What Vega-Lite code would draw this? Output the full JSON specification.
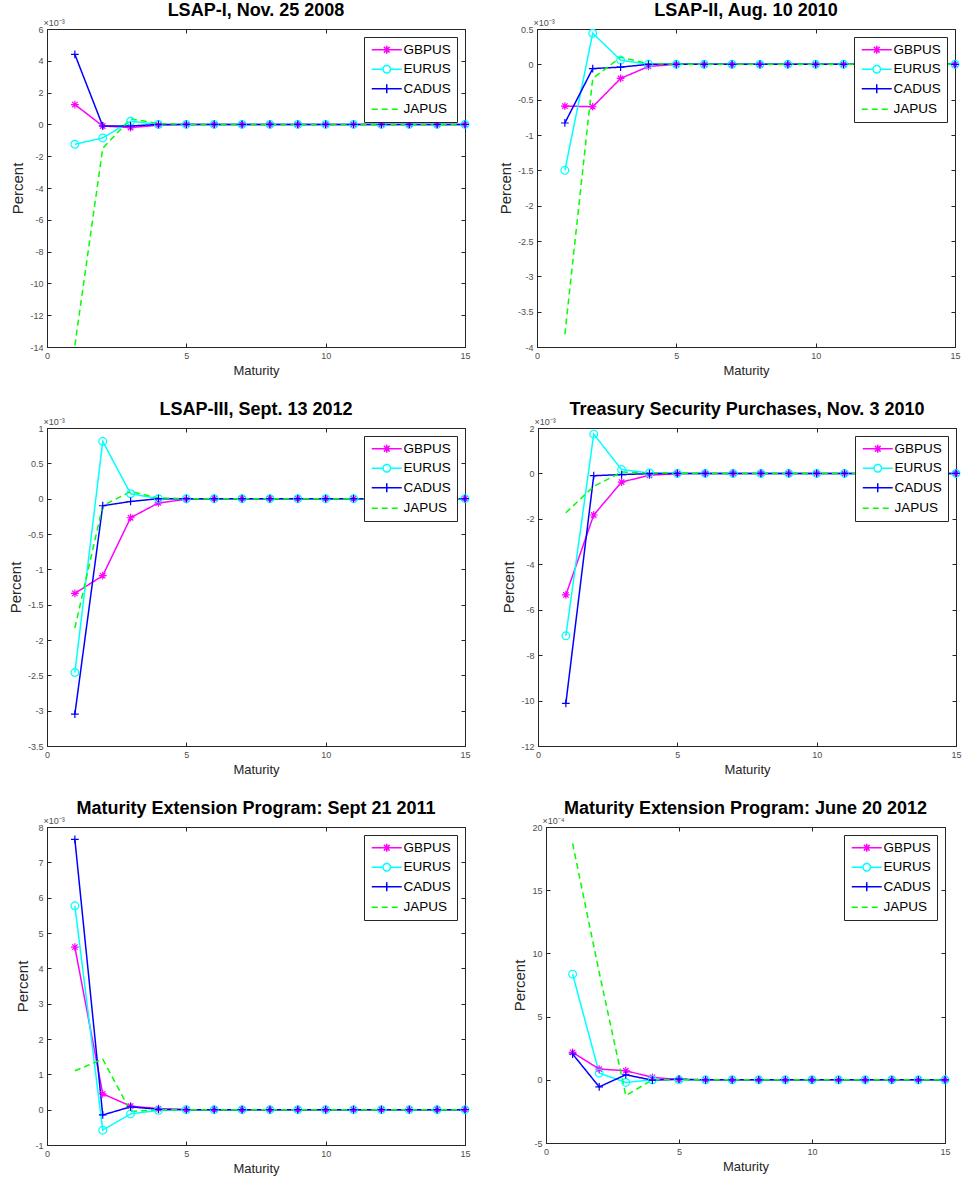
{
"$schema": "https://vega.github.io/schema/vega-lite/v6.json",
"background": "white",
"padding": {"left": 7, "top": 1, "right": 5, "bottom": 5},
"config": {
  "font": "Liberation Sans",
  "view": {"stroke": "#262626", "strokeWidth": 1},
  "axis": {"domainColor": "#262626", "tickColor": "#262626", "tickSize": -4, "labelPadding": 8, "labelFontSize": 9, "labelColor": "#4d4d4d", "labelFont": "Liberation Sans", "titleFont": "Liberation Sans", "titleFontSize": 13, "titleFontWeight": "normal", "titleColor": "#262626", "grid": false, "labelFlush": false, "labelOverlap": false, "labelExpr": "toString(datum.value)"},
  "axisLeft": {"titleFontSize": 15},
  "axisBottom": {"titleFontSize": 13},
  "title": {"fontSize": 18, "fontWeight": "bold", "font": "Liberation Sans", "color": "#000000"},
  "legend": {"orient": "top-right", "offset": 8, "fillColor": "#ffffff", "strokeColor": "#262626", "padding": 6, "symbolSize": 100, "symbolOffset": 10, "labelOffset": 10, "rowPadding": 4.5, "labelFontSize": 13.5, "labelColor": "#000000", "labelFont": "Liberation Sans"}
},
"datasets": {"d": [
{"p":1,"m":1,"GBPUS":1.25,"EURUS":-1.25,"CADUS":4.4,"JAPUS":-13.9},
{"p":1,"m":2,"GBPUS":-0.1,"EURUS":-0.85,"CADUS":-0.1,"JAPUS":-1.5},
{"p":1,"m":3,"GBPUS":-0.2,"EURUS":0.2,"CADUS":-0.1,"JAPUS":0.35},
{"p":1,"m":4,"GBPUS":-0.05,"EURUS":0,"CADUS":0,"JAPUS":0.05},
{"p":1,"m":5,"GBPUS":0,"EURUS":0,"CADUS":0,"JAPUS":0},
{"p":1,"m":6,"GBPUS":0,"EURUS":0,"CADUS":0,"JAPUS":0},
{"p":1,"m":7,"GBPUS":0,"EURUS":0,"CADUS":0,"JAPUS":0},
{"p":1,"m":8,"GBPUS":0,"EURUS":0,"CADUS":0,"JAPUS":0},
{"p":1,"m":9,"GBPUS":0,"EURUS":0,"CADUS":0,"JAPUS":0},
{"p":1,"m":10,"GBPUS":0,"EURUS":0,"CADUS":0,"JAPUS":0},
{"p":1,"m":11,"GBPUS":0,"EURUS":0,"CADUS":0,"JAPUS":0},
{"p":1,"m":12,"GBPUS":0,"EURUS":0,"CADUS":0,"JAPUS":0},
{"p":1,"m":13,"GBPUS":0,"EURUS":0,"CADUS":0,"JAPUS":0},
{"p":1,"m":14,"GBPUS":0,"EURUS":0,"CADUS":0,"JAPUS":0},
{"p":1,"m":15,"GBPUS":0,"EURUS":0,"CADUS":0,"JAPUS":0},
{"p":2,"m":1,"GBPUS":-0.59,"EURUS":-1.5,"CADUS":-0.83,"JAPUS":-3.82},
{"p":2,"m":2,"GBPUS":-0.6,"EURUS":0.44,"CADUS":-0.06,"JAPUS":-0.2},
{"p":2,"m":3,"GBPUS":-0.2,"EURUS":0.06,"CADUS":-0.04,"JAPUS":0.1},
{"p":2,"m":4,"GBPUS":-0.03,"EURUS":0,"CADUS":0,"JAPUS":0.01},
{"p":2,"m":5,"GBPUS":0,"EURUS":0,"CADUS":0,"JAPUS":0},
{"p":2,"m":6,"GBPUS":0,"EURUS":0,"CADUS":0,"JAPUS":0},
{"p":2,"m":7,"GBPUS":0,"EURUS":0,"CADUS":0,"JAPUS":0},
{"p":2,"m":8,"GBPUS":0,"EURUS":0,"CADUS":0,"JAPUS":0},
{"p":2,"m":9,"GBPUS":0,"EURUS":0,"CADUS":0,"JAPUS":0},
{"p":2,"m":10,"GBPUS":0,"EURUS":0,"CADUS":0,"JAPUS":0},
{"p":2,"m":11,"GBPUS":0,"EURUS":0,"CADUS":0,"JAPUS":0},
{"p":2,"m":12,"GBPUS":0,"EURUS":0,"CADUS":0,"JAPUS":0},
{"p":2,"m":13,"GBPUS":0,"EURUS":0,"CADUS":0,"JAPUS":0},
{"p":2,"m":14,"GBPUS":0,"EURUS":0,"CADUS":0,"JAPUS":0},
{"p":2,"m":15,"GBPUS":0,"EURUS":0,"CADUS":0,"JAPUS":0},
{"p":3,"m":1,"GBPUS":-1.34,"EURUS":-2.46,"CADUS":-3.05,"JAPUS":-1.83},
{"p":3,"m":2,"GBPUS":-1.09,"EURUS":0.81,"CADUS":-0.1,"JAPUS":-0.1},
{"p":3,"m":3,"GBPUS":-0.27,"EURUS":0.07,"CADUS":-0.04,"JAPUS":0.1},
{"p":3,"m":4,"GBPUS":-0.06,"EURUS":0,"CADUS":0,"JAPUS":0.01},
{"p":3,"m":5,"GBPUS":-0.01,"EURUS":0,"CADUS":0,"JAPUS":0},
{"p":3,"m":6,"GBPUS":0,"EURUS":0,"CADUS":0,"JAPUS":0},
{"p":3,"m":7,"GBPUS":0,"EURUS":0,"CADUS":0,"JAPUS":0},
{"p":3,"m":8,"GBPUS":0,"EURUS":0,"CADUS":0,"JAPUS":0},
{"p":3,"m":9,"GBPUS":0,"EURUS":0,"CADUS":0,"JAPUS":0},
{"p":3,"m":10,"GBPUS":0,"EURUS":0,"CADUS":0,"JAPUS":0},
{"p":3,"m":11,"GBPUS":0,"EURUS":0,"CADUS":0,"JAPUS":0},
{"p":3,"m":12,"GBPUS":0,"EURUS":0,"CADUS":0,"JAPUS":0},
{"p":3,"m":13,"GBPUS":0,"EURUS":0,"CADUS":0,"JAPUS":0},
{"p":3,"m":14,"GBPUS":0,"EURUS":0,"CADUS":0,"JAPUS":0},
{"p":3,"m":15,"GBPUS":0,"EURUS":0,"CADUS":0,"JAPUS":0},
{"p":4,"m":1,"GBPUS":-5.35,"EURUS":-7.15,"CADUS":-10.12,"JAPUS":-1.73},
{"p":4,"m":2,"GBPUS":-1.83,"EURUS":1.73,"CADUS":-0.1,"JAPUS":-0.57},
{"p":4,"m":3,"GBPUS":-0.38,"EURUS":0.17,"CADUS":-0.05,"JAPUS":0.06},
{"p":4,"m":4,"GBPUS":-0.08,"EURUS":0.02,"CADUS":-0.01,"JAPUS":0.02},
{"p":4,"m":5,"GBPUS":-0.01,"EURUS":0,"CADUS":0,"JAPUS":0.01},
{"p":4,"m":6,"GBPUS":0,"EURUS":0,"CADUS":0,"JAPUS":0},
{"p":4,"m":7,"GBPUS":0,"EURUS":0,"CADUS":0,"JAPUS":0},
{"p":4,"m":8,"GBPUS":0,"EURUS":0,"CADUS":0,"JAPUS":0},
{"p":4,"m":9,"GBPUS":0,"EURUS":0,"CADUS":0,"JAPUS":0},
{"p":4,"m":10,"GBPUS":0,"EURUS":0,"CADUS":0,"JAPUS":0},
{"p":4,"m":11,"GBPUS":0,"EURUS":0,"CADUS":0,"JAPUS":0},
{"p":4,"m":12,"GBPUS":0,"EURUS":0,"CADUS":0,"JAPUS":0},
{"p":4,"m":13,"GBPUS":0,"EURUS":0,"CADUS":0,"JAPUS":0},
{"p":4,"m":14,"GBPUS":0,"EURUS":0,"CADUS":0,"JAPUS":0},
{"p":4,"m":15,"GBPUS":0,"EURUS":0,"CADUS":0,"JAPUS":0},
{"p":5,"m":1,"GBPUS":4.6,"EURUS":5.77,"CADUS":7.65,"JAPUS":1.1},
{"p":5,"m":2,"GBPUS":0.45,"EURUS":-0.58,"CADUS":-0.15,"JAPUS":1.43},
{"p":5,"m":3,"GBPUS":0.1,"EURUS":-0.12,"CADUS":0.08,"JAPUS":-0.05},
{"p":5,"m":4,"GBPUS":0.03,"EURUS":-0.02,"CADUS":0.01,"JAPUS":0},
{"p":5,"m":5,"GBPUS":0,"EURUS":0,"CADUS":0,"JAPUS":0},
{"p":5,"m":6,"GBPUS":0,"EURUS":0,"CADUS":0,"JAPUS":0},
{"p":5,"m":7,"GBPUS":0,"EURUS":0,"CADUS":0,"JAPUS":0},
{"p":5,"m":8,"GBPUS":0,"EURUS":0,"CADUS":0,"JAPUS":0},
{"p":5,"m":9,"GBPUS":0,"EURUS":0,"CADUS":0,"JAPUS":0},
{"p":5,"m":10,"GBPUS":0,"EURUS":0,"CADUS":0,"JAPUS":0},
{"p":5,"m":11,"GBPUS":0,"EURUS":0,"CADUS":0,"JAPUS":0},
{"p":5,"m":12,"GBPUS":0,"EURUS":0,"CADUS":0,"JAPUS":0},
{"p":5,"m":13,"GBPUS":0,"EURUS":0,"CADUS":0,"JAPUS":0},
{"p":5,"m":14,"GBPUS":0,"EURUS":0,"CADUS":0,"JAPUS":0},
{"p":5,"m":15,"GBPUS":0,"EURUS":0,"CADUS":0,"JAPUS":0},
{"p":6,"m":1,"GBPUS":2.17,"EURUS":8.36,"CADUS":2.04,"JAPUS":18.7},
{"p":6,"m":2,"GBPUS":0.85,"EURUS":0.53,"CADUS":-0.56,"JAPUS":8.5},
{"p":6,"m":3,"GBPUS":0.72,"EURUS":-0.21,"CADUS":0.4,"JAPUS":-1.25},
{"p":6,"m":4,"GBPUS":0.19,"EURUS":0,"CADUS":-0.03,"JAPUS":0},
{"p":6,"m":5,"GBPUS":0.02,"EURUS":0,"CADUS":0.05,"JAPUS":0},
{"p":6,"m":6,"GBPUS":0,"EURUS":0,"CADUS":0,"JAPUS":0},
{"p":6,"m":7,"GBPUS":0,"EURUS":0,"CADUS":0,"JAPUS":0},
{"p":6,"m":8,"GBPUS":0,"EURUS":0,"CADUS":0,"JAPUS":0},
{"p":6,"m":9,"GBPUS":0,"EURUS":0,"CADUS":0,"JAPUS":0},
{"p":6,"m":10,"GBPUS":0,"EURUS":0,"CADUS":0,"JAPUS":0},
{"p":6,"m":11,"GBPUS":0,"EURUS":0,"CADUS":0,"JAPUS":0},
{"p":6,"m":12,"GBPUS":0,"EURUS":0,"CADUS":0,"JAPUS":0},
{"p":6,"m":13,"GBPUS":0,"EURUS":0,"CADUS":0,"JAPUS":0},
{"p":6,"m":14,"GBPUS":0,"EURUS":0,"CADUS":0,"JAPUS":0},
{"p":6,"m":15,"GBPUS":0,"EURUS":0,"CADUS":0,"JAPUS":0}
]},
"spacing": 22,
"resolve": {"scale": {"color": "independent", "shape": "independent", "strokeDash": "independent"}, "legend": {"color": "independent", "shape": "independent", "strokeDash": "independent"}},
"vconcat": [
{"spacing": 25,
 "resolve": {"scale": {"color": "independent", "shape": "independent", "strokeDash": "independent"}, "legend": {"color": "independent", "shape": "independent", "strokeDash": "independent"}},
 "hconcat": [
 {"title": {"text": "LSAP-I, Nov. 25 2008", "frame": "group", "offset": -2},
  "width": 418, "height": 318,
  "data": {"name": "d"},
  "transform": [{"filter": "datum.p == 1"}, {"fold": ["GBPUS", "EURUS", "CADUS", "JAPUS"], "as": ["s", "v"]}],
  "resolve": {"axis": {"x": "independent", "y": "independent"}},
  "layer": [
   {"mark": {"type": "line", "strokeWidth": 1.5, "clip": false},
    "encoding": {
     "x": {"field": "m", "type": "quantitative", "scale": {"domain": [0, 15], "nice": false}, "axis": {"orient": "bottom", "values": [0, 5, 10, 15], "title": "Maturity"}},
     "y": {"field": "v", "type": "quantitative", "scale": {"domain": [-14, 6], "nice": false, "zero": false}, "axis": {"orient": "left", "values": [-14, -12, -10, -8, -6, -4, -2, 0, 2, 4, 6], "title": "Percent"}},
     "color": {"field": "s", "type": "nominal", "scale": {"domain": ["GBPUS", "EURUS", "CADUS", "JAPUS"], "range": ["#ff00ff", "#00ffff", "#0000ff", "#00ff00"]},
       "legend": {"title": null, "encode": {"symbols": {"update": {"shape": {"signal": "datum.value==='GBPUS'?'M-3,0L3,0M-0.8,0L0.8,0M0,-0.8L0,0.8M-0.57,-0.57L0.57,0.57M-0.57,0.57L0.57,-0.57':datum.value==='EURUS'?'M-3,0L-0.75,0M0.75,0L3,0M0.75,0A0.75,0.75,0,1,1,-0.75,0A0.75,0.75,0,1,1,0.75,0':datum.value==='CADUS'?'M-3,0L3,0M0,-0.9L0,0.9':'M-3,0L3,0'"}, "stroke": {"signal": "datum.value==='GBPUS'?'#ff00ff':datum.value==='EURUS'?'#00ffff':datum.value==='CADUS'?'#0000ff':'#00ff00'"}, "fill": {"value": "transparent"}, "strokeDash": {"signal": "datum.value==='JAPUS'?[6,4]:[1,0]"}, "strokeWidth": {"value": 1.5}, "opacity": {"value": 1}}}}}},
     "strokeDash": {"field": "s", "type": "nominal", "scale": {"domain": ["GBPUS", "EURUS", "CADUS", "JAPUS"], "range": [[1, 0], [1, 0], [1, 0], [6, 4]]}, "legend": null}
    }},
   {"transform": [{"filter": "datum.s != 'JAPUS'"}],
    "mark": {"type": "point", "filled": false, "size": 60, "strokeWidth": 1.2, "opacity": 1, "clip": false},
    "encoding": {
     "x": {"field": "m", "type": "quantitative", "scale": {"domain": [0, 15], "nice": false}, "axis": {"orient": "top", "values": [0, 5, 10, 15], "labels": false, "title": "×10⁻³", "titleX": -4, "titleY": -2, "titleAnchor": "start", "titleAlign": "left", "titleBaseline": "bottom", "titleAngle": 0, "titleFontSize": 9, "titleColor": "#4d4d4d", "titlePadding": 0}},
     "y": {"field": "v", "type": "quantitative", "scale": {"domain": [-14, 6], "nice": false, "zero": false}, "axis": {"orient": "right", "values": [-14, -12, -10, -8, -6, -4, -2, 0, 2, 4, 6], "labels": false, "title": null}},
     "color": {"field": "s", "type": "nominal", "legend": null},
     "shape": {"field": "s", "type": "nominal", "scale": {"domain": ["GBPUS", "EURUS", "CADUS"], "range": ["M-1,0L1,0M0,-1L0,1M-0.7,-0.7L0.7,0.7M-0.7,0.7L0.7,-0.7", "M1,0A1,1,0,1,1,-1,0A1,1,0,1,1,1,0Z", "M-1,0L1,0M0,-1L0,1"]}, "legend": null}
    }}
  ]},
 {"title": {"text": "LSAP-II, Aug. 10 2010", "frame": "group", "offset": -2},
  "width": 418, "height": 318,
  "data": {"name": "d"},
  "transform": [{"filter": "datum.p == 2"}, {"fold": ["GBPUS", "EURUS", "CADUS", "JAPUS"], "as": ["s", "v"]}],
  "resolve": {"axis": {"x": "independent", "y": "independent"}},
  "layer": [
   {"mark": {"type": "line", "strokeWidth": 1.5, "clip": false},
    "encoding": {
     "x": {"field": "m", "type": "quantitative", "scale": {"domain": [0, 15], "nice": false}, "axis": {"orient": "bottom", "values": [0, 5, 10, 15], "title": "Maturity"}},
     "y": {"field": "v", "type": "quantitative", "scale": {"domain": [-4, 0.5], "nice": false, "zero": false}, "axis": {"orient": "left", "values": [-4, -3.5, -3, -2.5, -2, -1.5, -1, -0.5, 0, 0.5], "title": "Percent"}},
     "color": {"field": "s", "type": "nominal", "scale": {"domain": ["GBPUS", "EURUS", "CADUS", "JAPUS"], "range": ["#ff00ff", "#00ffff", "#0000ff", "#00ff00"]},
       "legend": {"title": null, "encode": {"symbols": {"update": {"shape": {"signal": "datum.value==='GBPUS'?'M-3,0L3,0M-0.8,0L0.8,0M0,-0.8L0,0.8M-0.57,-0.57L0.57,0.57M-0.57,0.57L0.57,-0.57':datum.value==='EURUS'?'M-3,0L-0.75,0M0.75,0L3,0M0.75,0A0.75,0.75,0,1,1,-0.75,0A0.75,0.75,0,1,1,0.75,0':datum.value==='CADUS'?'M-3,0L3,0M0,-0.9L0,0.9':'M-3,0L3,0'"}, "stroke": {"signal": "datum.value==='GBPUS'?'#ff00ff':datum.value==='EURUS'?'#00ffff':datum.value==='CADUS'?'#0000ff':'#00ff00'"}, "fill": {"value": "transparent"}, "strokeDash": {"signal": "datum.value==='JAPUS'?[6,4]:[1,0]"}, "strokeWidth": {"value": 1.5}, "opacity": {"value": 1}}}}}},
     "strokeDash": {"field": "s", "type": "nominal", "scale": {"domain": ["GBPUS", "EURUS", "CADUS", "JAPUS"], "range": [[1, 0], [1, 0], [1, 0], [6, 4]]}, "legend": null}
    }},
   {"transform": [{"filter": "datum.s != 'JAPUS'"}],
    "mark": {"type": "point", "filled": false, "size": 60, "strokeWidth": 1.2, "opacity": 1, "clip": false},
    "encoding": {
     "x": {"field": "m", "type": "quantitative", "scale": {"domain": [0, 15], "nice": false}, "axis": {"orient": "top", "values": [0, 5, 10, 15], "labels": false, "title": "×10⁻³", "titleX": -4, "titleY": -2, "titleAnchor": "start", "titleAlign": "left", "titleBaseline": "bottom", "titleAngle": 0, "titleFontSize": 9, "titleColor": "#4d4d4d", "titlePadding": 0}},
     "y": {"field": "v", "type": "quantitative", "scale": {"domain": [-4, 0.5], "nice": false, "zero": false}, "axis": {"orient": "right", "values": [-4, -3.5, -3, -2.5, -2, -1.5, -1, -0.5, 0, 0.5], "labels": false, "title": null}},
     "color": {"field": "s", "type": "nominal", "legend": null},
     "shape": {"field": "s", "type": "nominal", "scale": {"domain": ["GBPUS", "EURUS", "CADUS"], "range": ["M-1,0L1,0M0,-1L0,1M-0.7,-0.7L0.7,0.7M-0.7,0.7L0.7,-0.7", "M1,0A1,1,0,1,1,-1,0A1,1,0,1,1,1,0Z", "M-1,0L1,0M0,-1L0,1"]}, "legend": null}
    }}
  ]}
 ]},
{"spacing": 29,
 "resolve": {"scale": {"color": "independent", "shape": "independent", "strokeDash": "independent"}, "legend": {"color": "independent", "shape": "independent", "strokeDash": "independent"}},
 "hconcat": [
 {"title": {"text": "LSAP-III, Sept. 13 2012", "frame": "group", "offset": -2},
  "width": 418, "height": 318,
  "data": {"name": "d"},
  "transform": [{"filter": "datum.p == 3"}, {"fold": ["GBPUS", "EURUS", "CADUS", "JAPUS"], "as": ["s", "v"]}],
  "resolve": {"axis": {"x": "independent", "y": "independent"}},
  "layer": [
   {"mark": {"type": "line", "strokeWidth": 1.5, "clip": false},
    "encoding": {
     "x": {"field": "m", "type": "quantitative", "scale": {"domain": [0, 15], "nice": false}, "axis": {"orient": "bottom", "values": [0, 5, 10, 15], "title": "Maturity"}},
     "y": {"field": "v", "type": "quantitative", "scale": {"domain": [-3.5, 1], "nice": false, "zero": false}, "axis": {"orient": "left", "values": [-3.5, -3, -2.5, -2, -1.5, -1, -0.5, 0, 0.5, 1], "title": "Percent"}},
     "color": {"field": "s", "type": "nominal", "scale": {"domain": ["GBPUS", "EURUS", "CADUS", "JAPUS"], "range": ["#ff00ff", "#00ffff", "#0000ff", "#00ff00"]},
       "legend": {"title": null, "encode": {"symbols": {"update": {"shape": {"signal": "datum.value==='GBPUS'?'M-3,0L3,0M-0.8,0L0.8,0M0,-0.8L0,0.8M-0.57,-0.57L0.57,0.57M-0.57,0.57L0.57,-0.57':datum.value==='EURUS'?'M-3,0L-0.75,0M0.75,0L3,0M0.75,0A0.75,0.75,0,1,1,-0.75,0A0.75,0.75,0,1,1,0.75,0':datum.value==='CADUS'?'M-3,0L3,0M0,-0.9L0,0.9':'M-3,0L3,0'"}, "stroke": {"signal": "datum.value==='GBPUS'?'#ff00ff':datum.value==='EURUS'?'#00ffff':datum.value==='CADUS'?'#0000ff':'#00ff00'"}, "fill": {"value": "transparent"}, "strokeDash": {"signal": "datum.value==='JAPUS'?[6,4]:[1,0]"}, "strokeWidth": {"value": 1.5}, "opacity": {"value": 1}}}}}},
     "strokeDash": {"field": "s", "type": "nominal", "scale": {"domain": ["GBPUS", "EURUS", "CADUS", "JAPUS"], "range": [[1, 0], [1, 0], [1, 0], [6, 4]]}, "legend": null}
    }},
   {"transform": [{"filter": "datum.s != 'JAPUS'"}],
    "mark": {"type": "point", "filled": false, "size": 60, "strokeWidth": 1.2, "opacity": 1, "clip": false},
    "encoding": {
     "x": {"field": "m", "type": "quantitative", "scale": {"domain": [0, 15], "nice": false}, "axis": {"orient": "top", "values": [0, 5, 10, 15], "labels": false, "title": "×10⁻³", "titleX": -4, "titleY": -2, "titleAnchor": "start", "titleAlign": "left", "titleBaseline": "bottom", "titleAngle": 0, "titleFontSize": 9, "titleColor": "#4d4d4d", "titlePadding": 0}},
     "y": {"field": "v", "type": "quantitative", "scale": {"domain": [-3.5, 1], "nice": false, "zero": false}, "axis": {"orient": "right", "values": [-3.5, -3, -2.5, -2, -1.5, -1, -0.5, 0, 0.5, 1], "labels": false, "title": null}},
     "color": {"field": "s", "type": "nominal", "legend": null},
     "shape": {"field": "s", "type": "nominal", "scale": {"domain": ["GBPUS", "EURUS", "CADUS"], "range": ["M-1,0L1,0M0,-1L0,1M-0.7,-0.7L0.7,0.7M-0.7,0.7L0.7,-0.7", "M1,0A1,1,0,1,1,-1,0A1,1,0,1,1,1,0Z", "M-1,0L1,0M0,-1L0,1"]}, "legend": null}
    }}
  ]},
 {"title": {"text": "Treasury Security Purchases, Nov. 3 2010", "frame": "group", "offset": -2},
  "width": 418, "height": 318,
  "data": {"name": "d"},
  "transform": [{"filter": "datum.p == 4"}, {"fold": ["GBPUS", "EURUS", "CADUS", "JAPUS"], "as": ["s", "v"]}],
  "resolve": {"axis": {"x": "independent", "y": "independent"}},
  "layer": [
   {"mark": {"type": "line", "strokeWidth": 1.5, "clip": false},
    "encoding": {
     "x": {"field": "m", "type": "quantitative", "scale": {"domain": [0, 15], "nice": false}, "axis": {"orient": "bottom", "values": [0, 5, 10, 15], "title": "Maturity"}},
     "y": {"field": "v", "type": "quantitative", "scale": {"domain": [-12, 2], "nice": false, "zero": false}, "axis": {"orient": "left", "values": [-12, -10, -8, -6, -4, -2, 0, 2], "title": "Percent"}},
     "color": {"field": "s", "type": "nominal", "scale": {"domain": ["GBPUS", "EURUS", "CADUS", "JAPUS"], "range": ["#ff00ff", "#00ffff", "#0000ff", "#00ff00"]},
       "legend": {"title": null, "encode": {"symbols": {"update": {"shape": {"signal": "datum.value==='GBPUS'?'M-3,0L3,0M-0.8,0L0.8,0M0,-0.8L0,0.8M-0.57,-0.57L0.57,0.57M-0.57,0.57L0.57,-0.57':datum.value==='EURUS'?'M-3,0L-0.75,0M0.75,0L3,0M0.75,0A0.75,0.75,0,1,1,-0.75,0A0.75,0.75,0,1,1,0.75,0':datum.value==='CADUS'?'M-3,0L3,0M0,-0.9L0,0.9':'M-3,0L3,0'"}, "stroke": {"signal": "datum.value==='GBPUS'?'#ff00ff':datum.value==='EURUS'?'#00ffff':datum.value==='CADUS'?'#0000ff':'#00ff00'"}, "fill": {"value": "transparent"}, "strokeDash": {"signal": "datum.value==='JAPUS'?[6,4]:[1,0]"}, "strokeWidth": {"value": 1.5}, "opacity": {"value": 1}}}}}},
     "strokeDash": {"field": "s", "type": "nominal", "scale": {"domain": ["GBPUS", "EURUS", "CADUS", "JAPUS"], "range": [[1, 0], [1, 0], [1, 0], [6, 4]]}, "legend": null}
    }},
   {"transform": [{"filter": "datum.s != 'JAPUS'"}],
    "mark": {"type": "point", "filled": false, "size": 60, "strokeWidth": 1.2, "opacity": 1, "clip": false},
    "encoding": {
     "x": {"field": "m", "type": "quantitative", "scale": {"domain": [0, 15], "nice": false}, "axis": {"orient": "top", "values": [0, 5, 10, 15], "labels": false, "title": "×10⁻³", "titleX": -4, "titleY": -2, "titleAnchor": "start", "titleAlign": "left", "titleBaseline": "bottom", "titleAngle": 0, "titleFontSize": 9, "titleColor": "#4d4d4d", "titlePadding": 0}},
     "y": {"field": "v", "type": "quantitative", "scale": {"domain": [-12, 2], "nice": false, "zero": false}, "axis": {"orient": "right", "values": [-12, -10, -8, -6, -4, -2, 0, 2], "labels": false, "title": null}},
     "color": {"field": "s", "type": "nominal", "legend": null},
     "shape": {"field": "s", "type": "nominal", "scale": {"domain": ["GBPUS", "EURUS", "CADUS"], "range": ["M-1,0L1,0M0,-1L0,1M-0.7,-0.7L0.7,0.7M-0.7,0.7L0.7,-0.7", "M1,0A1,1,0,1,1,-1,0A1,1,0,1,1,1,0Z", "M-1,0L1,0M0,-1L0,1"]}, "legend": null}
    }}
  ]}
 ]},
{"spacing": 40,
 "resolve": {"scale": {"color": "independent", "shape": "independent", "strokeDash": "independent"}, "legend": {"color": "independent", "shape": "independent", "strokeDash": "independent"}},
 "hconcat": [
 {"title": {"text": "Maturity Extension Program: Sept 21 2011", "frame": "group", "offset": -2},
  "width": 418, "height": 318,
  "data": {"name": "d"},
  "transform": [{"filter": "datum.p == 5"}, {"fold": ["GBPUS", "EURUS", "CADUS", "JAPUS"], "as": ["s", "v"]}],
  "resolve": {"axis": {"x": "independent", "y": "independent"}},
  "layer": [
   {"mark": {"type": "line", "strokeWidth": 1.5, "clip": false},
    "encoding": {
     "x": {"field": "m", "type": "quantitative", "scale": {"domain": [0, 15], "nice": false}, "axis": {"orient": "bottom", "values": [0, 5, 10, 15], "title": "Maturity"}},
     "y": {"field": "v", "type": "quantitative", "scale": {"domain": [-1, 8], "nice": false, "zero": false}, "axis": {"orient": "left", "values": [-1, 0, 1, 2, 3, 4, 5, 6, 7, 8], "title": "Percent"}},
     "color": {"field": "s", "type": "nominal", "scale": {"domain": ["GBPUS", "EURUS", "CADUS", "JAPUS"], "range": ["#ff00ff", "#00ffff", "#0000ff", "#00ff00"]},
       "legend": {"title": null, "encode": {"symbols": {"update": {"shape": {"signal": "datum.value==='GBPUS'?'M-3,0L3,0M-0.8,0L0.8,0M0,-0.8L0,0.8M-0.57,-0.57L0.57,0.57M-0.57,0.57L0.57,-0.57':datum.value==='EURUS'?'M-3,0L-0.75,0M0.75,0L3,0M0.75,0A0.75,0.75,0,1,1,-0.75,0A0.75,0.75,0,1,1,0.75,0':datum.value==='CADUS'?'M-3,0L3,0M0,-0.9L0,0.9':'M-3,0L3,0'"}, "stroke": {"signal": "datum.value==='GBPUS'?'#ff00ff':datum.value==='EURUS'?'#00ffff':datum.value==='CADUS'?'#0000ff':'#00ff00'"}, "fill": {"value": "transparent"}, "strokeDash": {"signal": "datum.value==='JAPUS'?[6,4]:[1,0]"}, "strokeWidth": {"value": 1.5}, "opacity": {"value": 1}}}}}},
     "strokeDash": {"field": "s", "type": "nominal", "scale": {"domain": ["GBPUS", "EURUS", "CADUS", "JAPUS"], "range": [[1, 0], [1, 0], [1, 0], [6, 4]]}, "legend": null}
    }},
   {"transform": [{"filter": "datum.s != 'JAPUS'"}],
    "mark": {"type": "point", "filled": false, "size": 60, "strokeWidth": 1.2, "opacity": 1, "clip": false},
    "encoding": {
     "x": {"field": "m", "type": "quantitative", "scale": {"domain": [0, 15], "nice": false}, "axis": {"orient": "top", "values": [0, 5, 10, 15], "labels": false, "title": "×10⁻³", "titleX": -4, "titleY": -2, "titleAnchor": "start", "titleAlign": "left", "titleBaseline": "bottom", "titleAngle": 0, "titleFontSize": 9, "titleColor": "#4d4d4d", "titlePadding": 0}},
     "y": {"field": "v", "type": "quantitative", "scale": {"domain": [-1, 8], "nice": false, "zero": false}, "axis": {"orient": "right", "values": [-1, 0, 1, 2, 3, 4, 5, 6, 7, 8], "labels": false, "title": null}},
     "color": {"field": "s", "type": "nominal", "legend": null},
     "shape": {"field": "s", "type": "nominal", "scale": {"domain": ["GBPUS", "EURUS", "CADUS"], "range": ["M-1,0L1,0M0,-1L0,1M-0.7,-0.7L0.7,0.7M-0.7,0.7L0.7,-0.7", "M1,0A1,1,0,1,1,-1,0A1,1,0,1,1,1,0Z", "M-1,0L1,0M0,-1L0,1"]}, "legend": null}
    }}
  ]},
 {"title": {"text": "Maturity Extension Program: June 20 2012", "frame": "group", "offset": -2},
  "width": 399, "height": 316,
  "data": {"name": "d"},
  "transform": [{"filter": "datum.p == 6"}, {"fold": ["GBPUS", "EURUS", "CADUS", "JAPUS"], "as": ["s", "v"]}],
  "resolve": {"axis": {"x": "independent", "y": "independent"}},
  "layer": [
   {"mark": {"type": "line", "strokeWidth": 1.5, "clip": false},
    "encoding": {
     "x": {"field": "m", "type": "quantitative", "scale": {"domain": [0, 15], "nice": false}, "axis": {"orient": "bottom", "values": [0, 5, 10, 15], "title": "Maturity"}},
     "y": {"field": "v", "type": "quantitative", "scale": {"domain": [-5, 20], "nice": false, "zero": false}, "axis": {"orient": "left", "values": [-5, 0, 5, 10, 15, 20], "title": "Percent"}},
     "color": {"field": "s", "type": "nominal", "scale": {"domain": ["GBPUS", "EURUS", "CADUS", "JAPUS"], "range": ["#ff00ff", "#00ffff", "#0000ff", "#00ff00"]},
       "legend": {"title": null, "encode": {"symbols": {"update": {"shape": {"signal": "datum.value==='GBPUS'?'M-3,0L3,0M-0.8,0L0.8,0M0,-0.8L0,0.8M-0.57,-0.57L0.57,0.57M-0.57,0.57L0.57,-0.57':datum.value==='EURUS'?'M-3,0L-0.75,0M0.75,0L3,0M0.75,0A0.75,0.75,0,1,1,-0.75,0A0.75,0.75,0,1,1,0.75,0':datum.value==='CADUS'?'M-3,0L3,0M0,-0.9L0,0.9':'M-3,0L3,0'"}, "stroke": {"signal": "datum.value==='GBPUS'?'#ff00ff':datum.value==='EURUS'?'#00ffff':datum.value==='CADUS'?'#0000ff':'#00ff00'"}, "fill": {"value": "transparent"}, "strokeDash": {"signal": "datum.value==='JAPUS'?[6,4]:[1,0]"}, "strokeWidth": {"value": 1.5}, "opacity": {"value": 1}}}}}},
     "strokeDash": {"field": "s", "type": "nominal", "scale": {"domain": ["GBPUS", "EURUS", "CADUS", "JAPUS"], "range": [[1, 0], [1, 0], [1, 0], [6, 4]]}, "legend": null}
    }},
   {"transform": [{"filter": "datum.s != 'JAPUS'"}],
    "mark": {"type": "point", "filled": false, "size": 60, "strokeWidth": 1.2, "opacity": 1, "clip": false},
    "encoding": {
     "x": {"field": "m", "type": "quantitative", "scale": {"domain": [0, 15], "nice": false}, "axis": {"orient": "top", "values": [0, 5, 10, 15], "labels": false, "title": "×10⁻⁴", "titleX": -4, "titleY": -2, "titleAnchor": "start", "titleAlign": "left", "titleBaseline": "bottom", "titleAngle": 0, "titleFontSize": 9, "titleColor": "#4d4d4d", "titlePadding": 0}},
     "y": {"field": "v", "type": "quantitative", "scale": {"domain": [-5, 20], "nice": false, "zero": false}, "axis": {"orient": "right", "values": [-5, 0, 5, 10, 15, 20], "labels": false, "title": null}},
     "color": {"field": "s", "type": "nominal", "legend": null},
     "shape": {"field": "s", "type": "nominal", "scale": {"domain": ["GBPUS", "EURUS", "CADUS"], "range": ["M-1,0L1,0M0,-1L0,1M-0.7,-0.7L0.7,0.7M-0.7,0.7L0.7,-0.7", "M1,0A1,1,0,1,1,-1,0A1,1,0,1,1,1,0Z", "M-1,0L1,0M0,-1L0,1"]}, "legend": null}
    }}
  ]}
 ]}
]
}
